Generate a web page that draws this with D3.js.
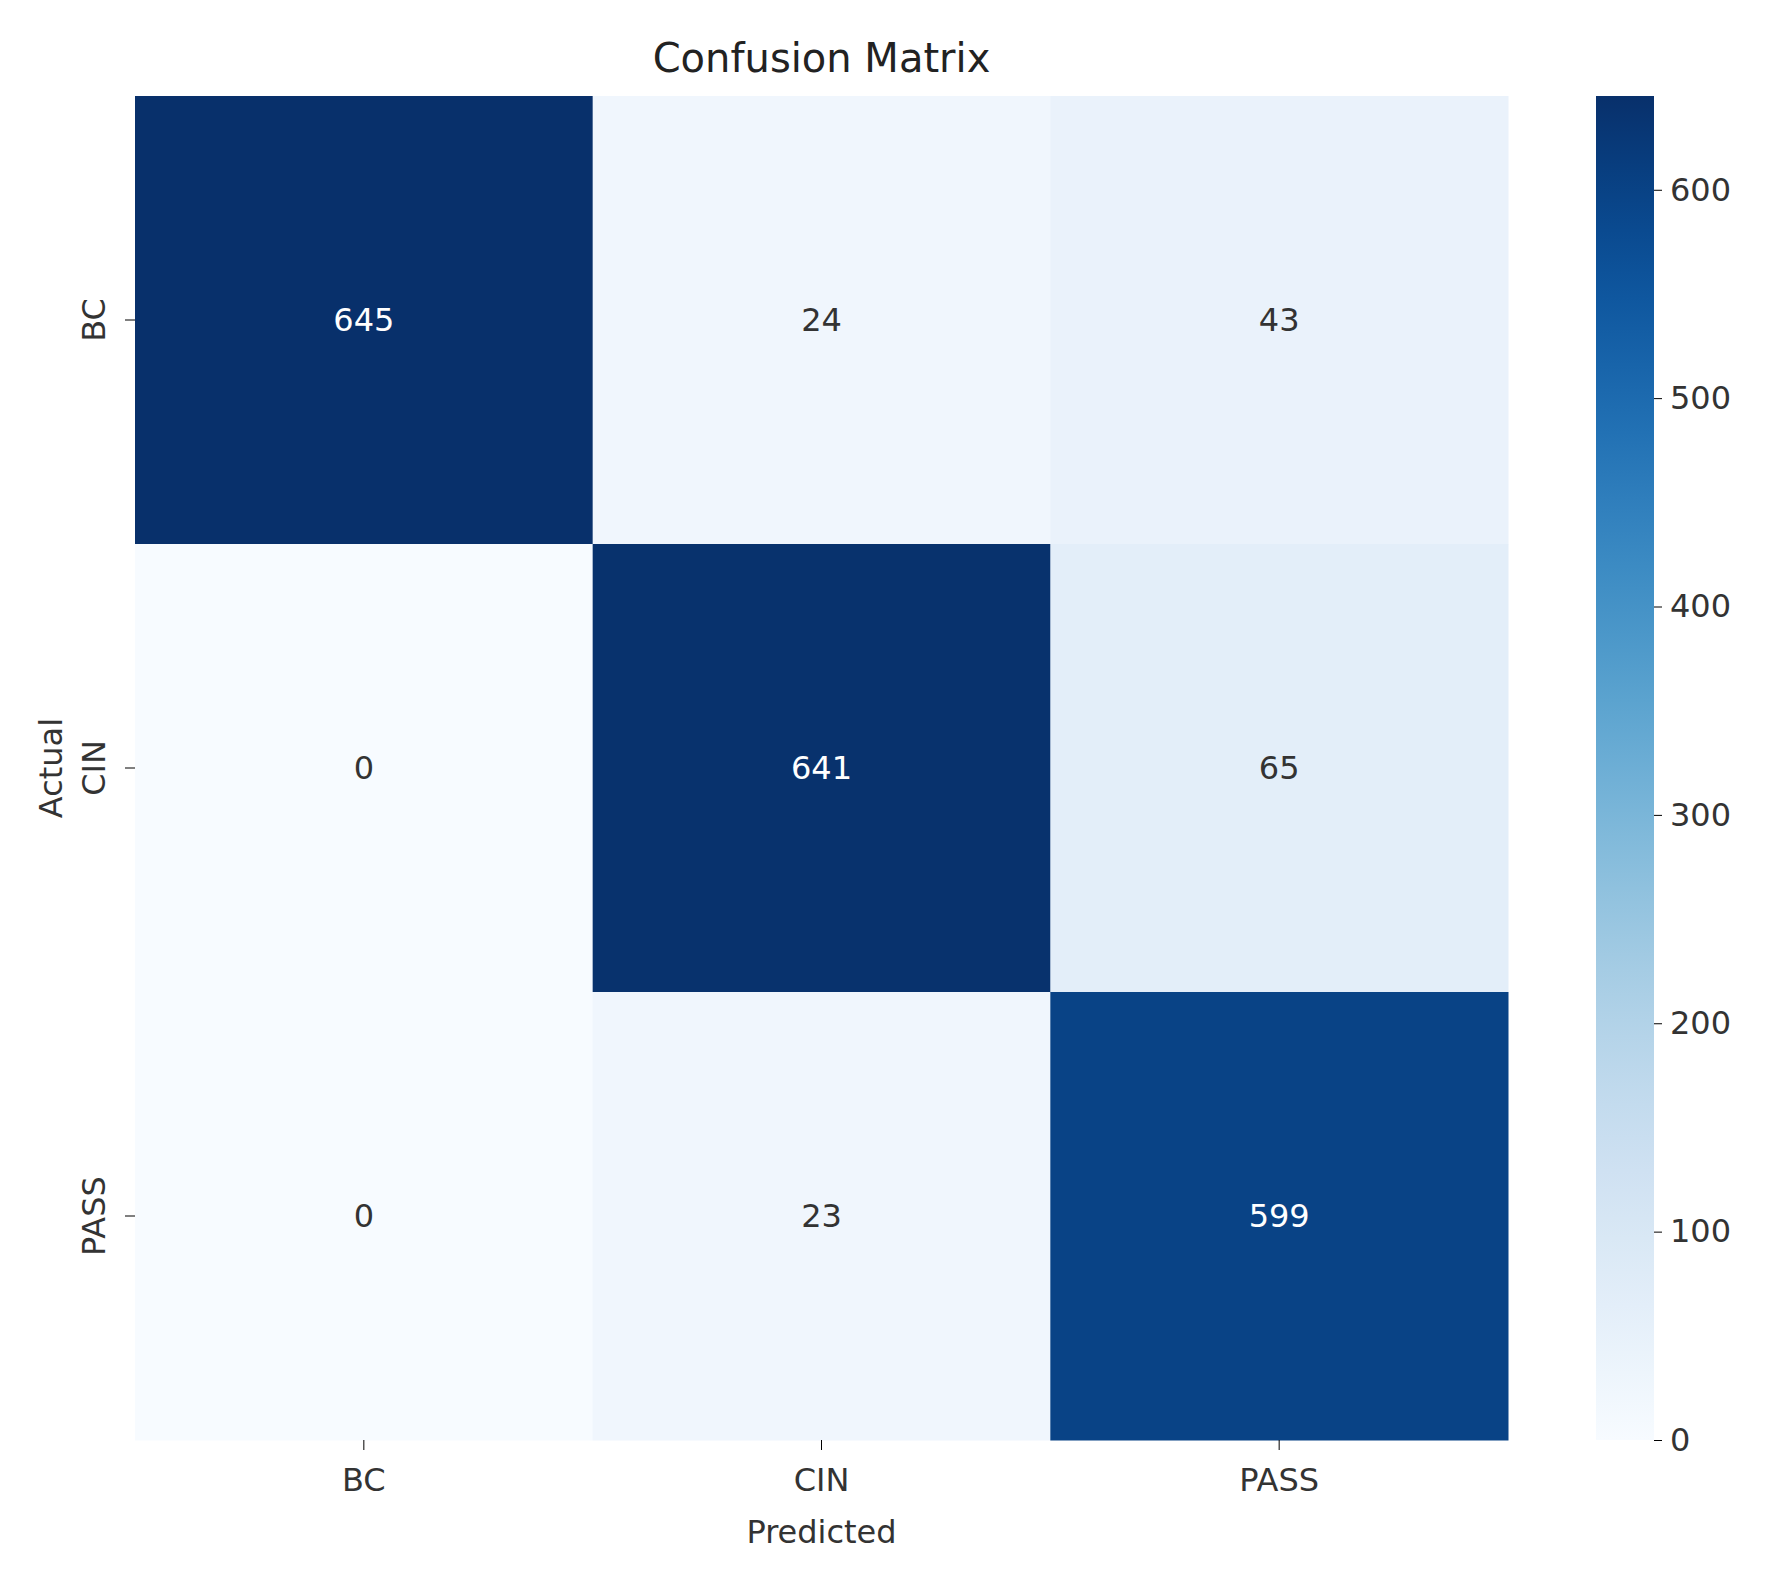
<!DOCTYPE html>
<html><head><meta charset="utf-8">
<script src="https://cdn.jsdelivr.net/npm/d3@7"></script>
<style>body{margin:0;background:#fff}text{font-family:"DejaVu Sans",sans-serif;fill:#333}</style>
</head><body><svg id="c" width="1768" height="1580"></svg>
<script>
var actual = ["BC", "CIN", "PASS"];
var predicted = ["BC", "CIN", "PASS"];
var counts = [[645, 24, 43], [0, 641, 65], [0, 23, 599]];
var cbTicks = [0, 100, 200, 300, 400, 500, 600];

var svg = d3.select("#c");
var L = 135, T = 96, R = 1508, B = 1440;
var x = d3.scaleBand().domain(predicted).range([L, R]);
var y = d3.scaleBand().domain(actual).range([T, B]);
var vmax = d3.max(counts, r => d3.max(r));
var color = d3.scaleSequential(d3.interpolateBlues).domain([0, vmax]);

var cells = [];
counts.forEach((row, i) => row.forEach((v, j) => cells.push({a: actual[i], p: predicted[j], v: v})));

svg.selectAll("rect.cell").data(cells).enter().append("rect")
  .attr("x", d => x(d.p)).attr("y", d => y(d.a))
  .attr("width", x.bandwidth() + 0.5).attr("height", y.bandwidth() + 0.5)
  .attr("fill", d => color(d.v));
svg.selectAll("text.val").data(cells).enter().append("text")
  .attr("x", d => x(d.p) + x.bandwidth() / 2).attr("y", d => y(d.a) + y.bandwidth() / 2)
  .attr("text-anchor", "middle").attr("dy", "0.35em").style("font-size", "32px")
  .style("fill", d => d.v > vmax / 2 ? "#fff" : "#333").text(d => d.v);

// axes
var xa = svg.append("g").attr("transform", "translate(0," + B + ")")
  .call(d3.axisBottom(x).tickSize(10).tickPadding(6));
xa.select(".domain").remove();
xa.selectAll("text").style("font-size", "32px").attr("dy", "1.1em");
var ya = svg.append("g").attr("transform", "translate(" + L + ",0)")
  .call(d3.axisLeft(y).tickSize(10).tickPadding(8));
ya.select(".domain").remove();
ya.selectAll("text").style("font-size", "32px").attr("text-anchor", "middle")
  .attr("transform", "rotate(-90)").attr("x", 0).attr("dy", 0)
  .each(function(d){ d3.select(this).attr("x", -y(d) - y.bandwidth()/2 + 0).attr("y", -30); });
ya.selectAll(".tick").attr("transform", "translate(0,0)");
ya.selectAll(".tick line").attr("y1", d => y(d) + y.bandwidth()/2).attr("y2", d => y(d) + y.bandwidth()/2);

svg.append("text").attr("x", (L + R) / 2).attr("y", 72).attr("text-anchor", "middle")
  .style("font-size", "40px").style("fill", "#222").text("Confusion Matrix");
svg.append("text").attr("x", (L + R) / 2).attr("y", 1543).attr("text-anchor", "middle")
  .style("font-size", "32px").text("Predicted");
svg.append("text").attr("transform", "translate(62," + ((T + B) / 2) + ") rotate(-90)")
  .attr("text-anchor", "middle").style("font-size", "32px").text("Actual");

// colorbar
var cbX = 1596, cbW = 58;
var cy = d3.scaleLinear().domain([0, vmax]).range([B, T]);
var defs = svg.append("defs");
var grad = defs.append("linearGradient").attr("id", "g").attr("x1", 0).attr("y1", 1).attr("x2", 0).attr("y2", 0);
d3.range(0, 1.01, 0.05).forEach(t => grad.append("stop").attr("offset", t).attr("stop-color", color(t * vmax)));
svg.append("rect").attr("x", cbX).attr("y", T).attr("width", cbW).attr("height", B - T).attr("fill", "url(#g)");
var ca = svg.append("g").attr("transform", "translate(" + (cbX + cbW) + ",0)")
  .call(d3.axisRight(cy).tickValues(cbTicks).tickSize(8).tickPadding(8));
ca.select(".domain").remove();
ca.selectAll("text").style("font-size", "32px");
</script></body></html>
